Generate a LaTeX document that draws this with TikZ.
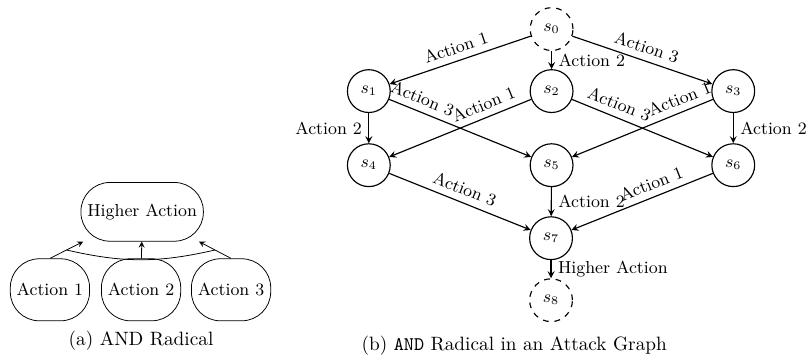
\documentclass[tikz,border=0pt]{standalone}
\usepackage{amsmath}
\usepackage{tikz}
\usetikzlibrary{arrows}

\begin{document}
\begin{tikzpicture}[>=stealth,
  act/.style={draw,rectangle,rounded corners=15pt,minimum width=1.42cm,minimum height=1.13cm,font=\small},
  stnode/.style={draw,semithick,circle,minimum size=0.78cm,inner sep=0pt,font=\small},
  lbl/.style={font=\small}]
\useasboundingbox (0,0) rectangle (14.74,6.56);
% (a) AND radical
\node (ha) at (2.59,2.70) [act,minimum width=2.17cm,minimum height=1.07cm] {Higher Action};
\node (a1) at (0.91,1.28) [act] {Action 1};
\node (a2) at (2.57,1.28) [act] {Action 2};
\node (a3) at (4.21,1.28) [act] {Action 3};
\draw [->] (a1.north) -- (ha) coordinate[pos=0.5] (andl);
\draw [->] (a2) -- (ha);
\draw [->] (a3.north) -- (ha) coordinate[pos=0.5] (andr);
\draw (andl) to[bend right=13] (andr);
\node (capa) at (2.57,0.35) [] {(a) AND Radical};
% (b) attack graph
\node (s0) at (10.05,6.03) [stnode,dashed] {$s_0$};
\node (s1) at (6.72,4.90) [stnode] {$s_1$};
\node (s2) at (10.05,4.90) [stnode] {$s_2$};
\node (s3) at (13.36,4.90) [stnode] {$s_3$};
\node (s4) at (6.72,3.55) [stnode] {$s_4$};
\node (s5) at (10.05,3.55) [stnode] {$s_5$};
\node (s6) at (13.36,3.55) [stnode] {$s_6$};
\node (s7) at (10.04,2.22) [stnode] {$s_7$};
\node (s8) at (10.04,1.09) [stnode,dashed] {$s_8$};
\draw [semithick,->] (s0) -- node[lbl,above,sloped] {Action 1} (s1);
\draw [semithick,->] (s0) -- node[lbl,right] {Action 2} (s2);
\draw [semithick,->] (s0) -- node[lbl,above,sloped] {Action 3} (s3);
\draw [semithick,->] (s1) -- node[lbl,left] {Action 2} (s4);
\draw [semithick,->] (s1) -- node[lbl,above,sloped,pos=0.2] {Action 3} (s5);
\draw [semithick,->] (s2) -- node[lbl,above,sloped,pos=0.3] {Action 1} (s4);
\draw [semithick,->] (s2) -- node[lbl,above,sloped,pos=0.3] {Action 3} (s6);
\draw [semithick,->] (s3) -- node[lbl,above,sloped,pos=0.2] {Action 1} (s5);
\draw [semithick,->] (s3) -- node[lbl,right] {Action 2} (s6);
\draw [semithick,->] (s4) -- node[lbl,above,sloped] {Action 3} (s7);
\draw [semithick,->] (s5) -- node[lbl,right] {Action 2} (s7);
\draw [semithick,->] (s6) -- node[lbl,above,sloped,pos=0.4] {Action 1} (s7);
\draw [semithick,->] (s7) -- node[lbl,right] {Higher Action} (s8);
\node (capb) at (9.37,0.27) [] {(b) \texttt{AND} Radical in an Attack Graph};
\end{tikzpicture}
\end{document}
